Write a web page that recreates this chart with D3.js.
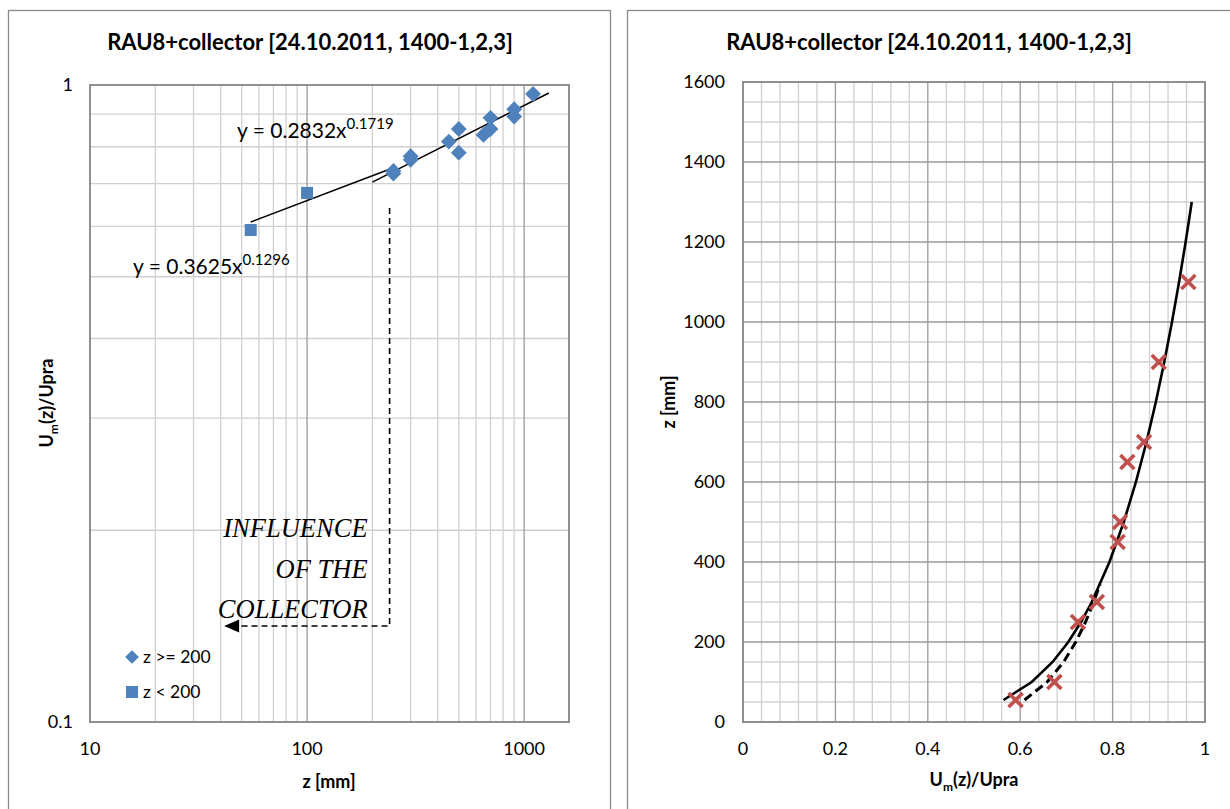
<!DOCTYPE html>
<html>
<head>
<meta charset="utf-8">
<script src="https://cdn.jsdelivr.net/npm/d3@7"></script>
<style>
  html, body { margin: 0; padding: 0; background: #fff; }
  svg { display: block; font-family: Lato, "Open Sans", sans-serif; }
</style>
</head>
<body>
<svg id="fig" width="1230" height="809"></svg>
<script>
// ---- data -------------------------------------------------------------
const titleText = "RAU8+collector [24.10.2011, 1400-1,2,3]";

// measured velocity ratio vs height, z >= 200 mm
const highZ = [250, 250, 300, 300, 450, 500, 500, 650, 700, 700, 900, 900, 1100];
const highU = [0.733, 0.726, 0.773, 0.763, 0.815, 0.853, 0.783, 0.835, 0.888, 0.853, 0.916, 0.892, 0.968];
// z < 200 mm
const lowZ = [55, 100];
const lowU = [0.592, 0.677];

// power-law fits  U = a * z^b
const fitHigh = { a: 0.2832, b: 0.1719 };
const fitLow  = { a: 0.3625, b: 0.1296 };
const fitHighZ = [200, 1300];          // drawn range of the upper fit (log chart)
const fitLowZ  = [55, 250];            // drawn range of the lower fit (log chart)

// averaged profile (right chart)
const profZ = [55, 100, 250, 300, 450, 500, 650, 700, 900, 1100];
const profU = [0.590, 0.674, 0.725, 0.766, 0.811, 0.816, 0.832, 0.868, 0.900, 0.964];
const curveSolidZ  = [55, 100, 150, 200, 250, 300, 400, 500, 600, 700, 800, 900, 1000, 1100, 1200, 1300];
const curveDashedZ = [55, 100, 150, 200, 250, 300, 345];

// tick labels
const logXTicks = [10, 100, 1000];
const logYTicks = [0.1, 1];
const linXTicks = [0, 0.2, 0.4, 0.6, 0.8, 1];
const linYTicks = [0, 200, 400, 600, 800, 1000, 1200, 1400, 1600];

// ---- styles -------------------------------------------------------------
const BLUE = "#4F81BD", RED = "#C0504D";
const FRAME = "#8a8a8a", AXIS = "#868686", MAJOR = "#9a9a9a", MINOR = "#d0d0d0";
const TICK_FS = 18, TITLE_FS = 22, AXT_FS = 18;

const svg = d3.select("#fig");
svg.append("rect").attr("width", 1230).attr("height", 809).attr("fill", "#fff");

// chart frames
svg.append("rect").attr("x", 8.5).attr("y", 10.5).attr("width", 602).attr("height", 830)
  .attr("fill", "none").attr("stroke", FRAME).attr("stroke-width", 1.3);
svg.append("rect").attr("x", 627.5).attr("y", 10.5).attr("width", 640).attr("height", 830)
  .attr("fill", "none").attr("stroke", FRAME).attr("stroke-width", 1.3);

function axisTitle(g, x, y, rotate) {
  return g.append("text").attr("font-weight", "bold").attr("font-size", AXT_FS)
    .attr("text-anchor", "middle").attr("fill", "#000")
    .attr("transform", `translate(${x},${y})` + (rotate ? " rotate(-90)" : ""));
}
function umTitle(g, x, y, rotate) {
  const t = axisTitle(g, x, y, rotate);
  t.append("tspan").text("U");
  t.append("tspan").text("m").attr("font-size", 12).attr("dy", 5);
  t.append("tspan").text("(z)/Upra").attr("dy", -5);
}

// ======================= left: log-log chart ============================
{
  const L = 90, R = 569, T = 85, B = 722;
  const x = d3.scaleLog().domain([10, 1610]).range([L, R]);
  const y = d3.scaleLog().domain([0.1, 1]).range([B, T]);
  const g = svg.append("g");

  g.append("text").attr("x", 310).attr("y", 50).attr("text-anchor", "middle")
    .attr("font-weight", "bold").attr("font-size", TITLE_FS).text(titleText);

  // gridlines
  const minorX = [20,30,40,50,60,70,80,90,200,300,400,500,600,700,800,900];
  const majorX = [100, 1000];
  const minorY = [0.2,0.3,0.4,0.5,0.6,0.7,0.8,0.9];
  g.selectAll(".mx").data(minorX).join("line")
    .attr("x1", d => x(d)).attr("x2", d => x(d)).attr("y1", T).attr("y2", B)
    .attr("stroke", MINOR).attr("stroke-width", 1.3);
  g.selectAll(".my").data(minorY).join("line")
    .attr("y1", d => y(d)).attr("y2", d => y(d)).attr("x1", L).attr("x2", R)
    .attr("stroke", MINOR).attr("stroke-width", 1.3);
  g.selectAll(".Mx").data(majorX).join("line")
    .attr("x1", d => x(d)).attr("x2", d => x(d)).attr("y1", T).attr("y2", B)
    .attr("stroke", MAJOR).attr("stroke-width", 1.3);
  g.append("rect").attr("x", L).attr("y", T).attr("width", R - L).attr("height", B - T)
    .attr("fill", "none").attr("stroke", AXIS).attr("stroke-width", 1.8);

  // tick labels
  g.selectAll(".xt").data(logXTicks).join("text")
    .attr("x", d => x(d)).attr("y", B + 33).attr("text-anchor", "middle")
    .attr("font-size", TICK_FS).text(d => d3.format("d")(d));
  g.selectAll(".yt").data(logYTicks).join("text")
    .attr("x", L - 17).attr("y", d => y(d) + 6).attr("text-anchor", "end")
    .attr("font-size", TICK_FS).text(d => String(d));

  axisTitle(g, 329, 788, false).text("z [mm]");
  umTitle(g, 53, 403, true);

  // annotation: dashed arrow + italic note
  const arrowZ = 240, tipZ = 41.5;
  const ax = x(arrowZ), ay0 = y(0.641), ay1 = y(0.1415);
  g.append("path")
    .attr("d", `M${ax},${ay0} L${ax},${ay1} L${x(tipZ) + 13},${ay1}`)
    .attr("fill", "none").attr("stroke", "#000").attr("stroke-width", 1.6)
    .attr("stroke-dasharray", "6,4");
  g.append("path")
    .attr("d", `M${x(tipZ)},${ay1} L${x(tipZ) + 15},${ay1 - 6.5} L${x(tipZ) + 15},${ay1 + 6.5} Z`)
    .attr("fill", "#000");
  const note = ["INFLUENCE", "OF THE", "COLLECTOR"];
  g.selectAll(".note").data(note).join("text")
    .attr("x", x(arrowZ) - 22).attr("y", (d, i) => 537 + i * 40.5)
    .attr("text-anchor", "end").attr("font-family", "'Liberation Serif', serif")
    .attr("font-style", "italic").attr("font-size", 26.5).text(d => d);

  // trend lines (straight on log-log axes)
  const fitLine = (f, zs) => d3.line().x(d => x(d)).y(d => y(f.a * Math.pow(d, f.b)))(zs);
  g.append("path").attr("d", fitLine(fitLow, fitLowZ))
    .attr("fill", "none").attr("stroke", "#000").attr("stroke-width", 1.5);
  g.append("path").attr("d", fitLine(fitHigh, fitHighZ))
    .attr("fill", "none").attr("stroke", "#000").attr("stroke-width", 1.5);

  // markers
  const diamond = d3.symbol().type(d3.symbolDiamond2).size(160);
  g.selectAll(".hi").data(highZ.map((z, i) => [z, highU[i]])).join("path")
    .attr("d", diamond).attr("transform", d => `translate(${x(d[0])},${y(d[1])})`)
    .attr("fill", BLUE);
  g.selectAll(".lo").data(lowZ.map((z, i) => [z, lowU[i]])).join("rect")
    .attr("x", d => x(d[0]) - 6).attr("y", d => y(d[1]) - 6)
    .attr("width", 12).attr("height", 12).attr("fill", BLUE);

  // equation labels
  function eqLabel(px, py, f) {
    const t = g.append("text").attr("x", px).attr("y", py).attr("font-size", 21);
    t.append("tspan").text(`y = ${f.a.toFixed(4)}x`);
    t.append("tspan").text(f.b.toFixed(4)).attr("font-size", 15).attr("dy", -9);
  }
  eqLabel(237, 138, fitHigh);
  eqLabel(133, 274, fitLow);

  // legend
  const lg = g.append("g");
  lg.append("path").attr("d", d3.symbol().type(d3.symbolDiamond2).size(120))
    .attr("transform", "translate(132,657)").attr("fill", BLUE);
  lg.append("text").attr("x", 143).attr("y", 663).attr("font-size", 17.5).text("z >= 200");
  lg.append("rect").attr("x", 126).attr("y", 686).attr("width", 12).attr("height", 12).attr("fill", BLUE);
  lg.append("text").attr("x", 143).attr("y", 698).attr("font-size", 17.5).text("z < 200");
}

// ======================= right: linear profile ==========================
{
  const L = 743, R = 1205, T = 82, B = 722;
  const x = d3.scaleLinear().domain([0, 1]).range([L, R]);
  const y = d3.scaleLinear().domain([0, 1600]).range([B, T]);
  const g = svg.append("g");

  g.append("text").attr("x", 929).attr("y", 50).attr("text-anchor", "middle")
    .attr("font-weight", "bold").attr("font-size", TITLE_FS).text(titleText);

  const minorX = d3.range(1, 25).map(i => i * 0.04).filter((d, i) => (i + 1) % 5 !== 0);
  const majorX = [0.2, 0.4, 0.6, 0.8];
  const minorY = d3.range(1, 32).map(i => i * 50).filter(d => d % 200 !== 0);
  const majorY = [200, 400, 600, 800, 1000, 1200, 1400];
  g.selectAll(".mx").data(minorX).join("line")
    .attr("x1", d => x(d)).attr("x2", d => x(d)).attr("y1", T).attr("y2", B)
    .attr("stroke", MINOR).attr("stroke-width", 1.3);
  g.selectAll(".my").data(minorY).join("line")
    .attr("y1", d => y(d)).attr("y2", d => y(d)).attr("x1", L).attr("x2", R)
    .attr("stroke", MINOR).attr("stroke-width", 1.3);
  g.selectAll(".Mx").data(majorX).join("line")
    .attr("x1", d => x(d)).attr("x2", d => x(d)).attr("y1", T).attr("y2", B)
    .attr("stroke", MAJOR).attr("stroke-width", 1.3);
  g.selectAll(".My").data(majorY).join("line")
    .attr("y1", d => y(d)).attr("y2", d => y(d)).attr("x1", L).attr("x2", R)
    .attr("stroke", MAJOR).attr("stroke-width", 1.3);
  g.append("rect").attr("x", L).attr("y", T).attr("width", R - L).attr("height", B - T)
    .attr("fill", "none").attr("stroke", AXIS).attr("stroke-width", 1.8);

  g.selectAll(".xt").data(linXTicks).join("text")
    .attr("x", d => x(d)).attr("y", B + 33).attr("text-anchor", "middle")
    .attr("font-size", TICK_FS).text(d => String(d));
  g.selectAll(".yt").data(linYTicks).join("text")
    .attr("x", L - 18).attr("y", d => y(d) + 6).attr("text-anchor", "end")
    .attr("font-size", TICK_FS).text(d => String(d));

  umTitle(g, 974, 786, false);
  axisTitle(g, 675, 402, true).text("z [mm]");

  // fitted profiles
  const prof = f => d3.line().x(d => x(f.a * Math.pow(d, f.b))).y(d => y(d));
  g.append("path").attr("d", prof(fitLow)(curveDashedZ))
    .attr("fill", "none").attr("stroke", "#000").attr("stroke-width", 3)
    .attr("stroke-dasharray", "9,5");
  g.append("path").attr("d", prof(fitHigh)(curveSolidZ))
    .attr("fill", "none").attr("stroke", "#000").attr("stroke-width", 2.6);

  // averaged measurements as crosses
  const s = 7;
  const pts = profZ.map((z, i) => [profU[i], z]);
  const cross = g.selectAll(".pt").data(pts).join("g")
    .attr("transform", d => `translate(${x(d[0])},${y(d[1])})`);
  cross.append("path").attr("d", `M${-s},${-s}L${s},${s}M${-s},${s}L${s},${-s}`)
    .attr("stroke", RED).attr("stroke-width", 3.6).attr("fill", "none");
}
</script>
</body>
</html>
